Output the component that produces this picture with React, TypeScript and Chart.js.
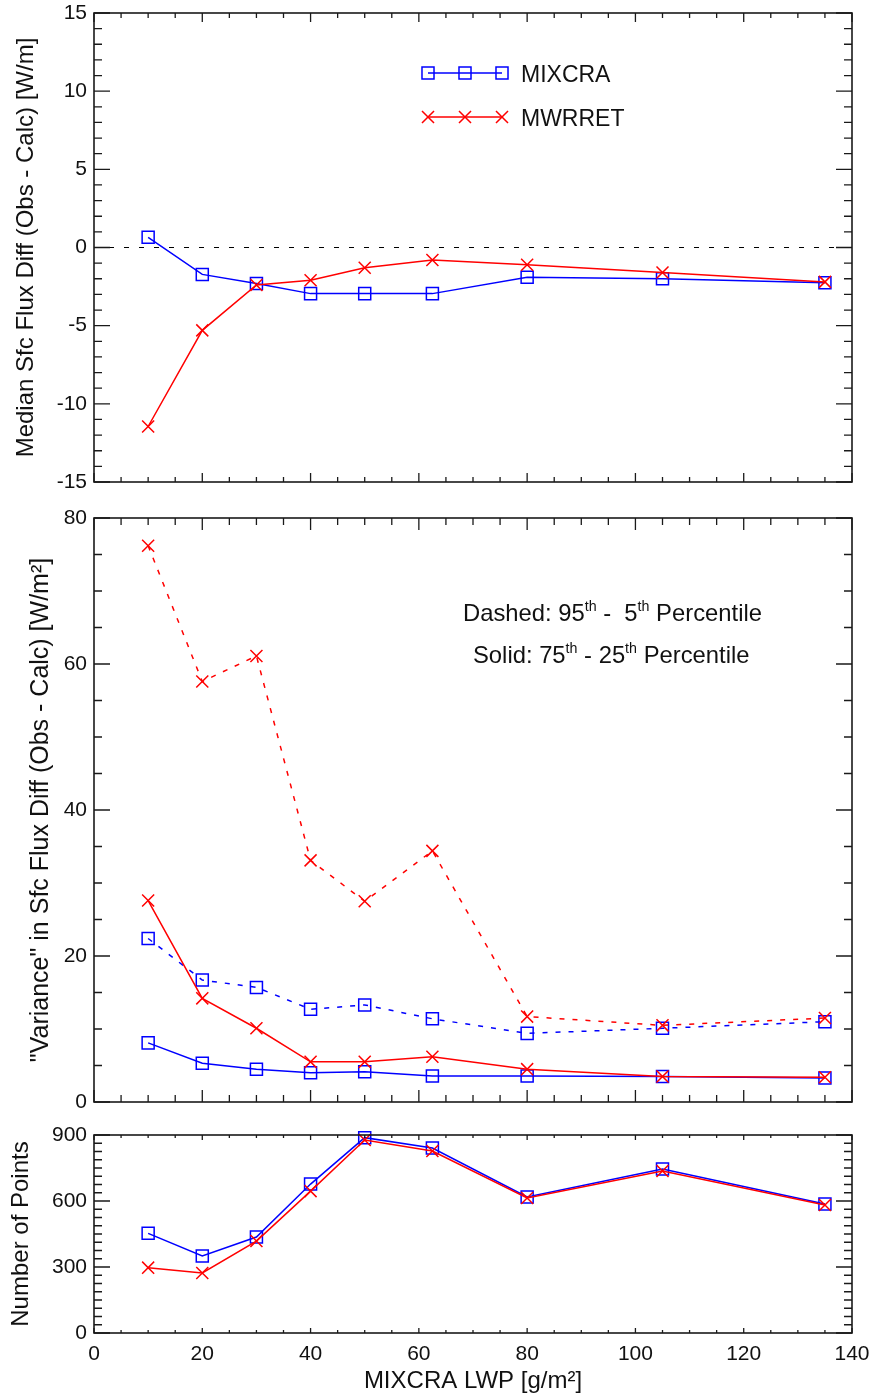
import React, { useEffect, useRef } from 'react';
import { Chart, registerables } from 'chart.js';

Chart.register(...registerables);

const FONT = '"Liberation Sans", Arial, Helvetica, sans-serif';
const BLUE = '#0000ff';
const RED = '#ff0000';
const AXIS = '#1a1a1a';
const TEXT = '#111111';

// ---- data ----
const LWP = [10, 20, 30, 40, 50, 62.5, 80, 105, 135];

const MEDIAN_MIXCRA = [0.65, -1.72, -2.3, -2.95, -2.95, -2.95, -1.9, -2.0, -2.25];
const MEDIAN_MWRRET = [-11.45, -5.3, -2.4, -2.1, -1.3, -0.8, -1.1, -1.6, -2.2];

const P95_5_MIXCRA = [22.4, 16.7, 15.7, 12.7, 13.3, 11.4, 9.4, 10.1, 11.0];
const P95_5_MWRRET = [76.2, 57.6, 61.1, 33.1, 27.5, 34.4, 11.7, 10.5, 11.5];
const P75_25_MIXCRA = [8.1, 5.3, 4.5, 4.0, 4.15, 3.55, 3.55, 3.5, 3.3];
const P75_25_MWRRET = [27.6, 14.2, 10.1, 5.5, 5.5, 6.2, 4.5, 3.5, 3.4];

const NPTS_MIXCRA = [453, 350, 436, 677, 888, 841, 618, 745, 586];
const NPTS_MWRRET = [297, 273, 418, 645, 877, 827, 614, 736, 582];

const X_TICKS = [0, 20, 40, 60, 80, 100, 120, 140];
const MEDIAN_TICKS = [-15, -10, -5, 0, 5, 10, 15];
const SPREAD_TICKS = [0, 20, 40, 60, 80];
const COUNT_TICKS = [0, 300, 600, 900];
const ZERO_LINE_X = [0, 140];

const LEGEND_LABELS = ['MIXCRA', 'MWRRET'];

const NOTE_DASHED = [
  { t: 'Dashed: 95', sup: false }, { t: 'th', sup: true }, { t: ' -  5', sup: false }, { t: 'th', sup: true }, { t: ' Percentile', sup: false },
];
const NOTE_SOLID = [
  { t: 'Solid: 75', sup: false }, { t: 'th', sup: true }, { t: ' - 25', sup: false }, { t: 'th', sup: true }, { t: ' Percentile', sup: false },
];

const PAGE_WIDTH = 869;
const PAGE_HEIGHT = 1394;

// ---- helpers ----
function pts(ys: number[]) {
  return LWP.map((x, i) => ({ x, y: ys[i] }));
}

function series(label: string, ys: number[], color: string, style: string, dash: number[] = []) {
  return {
    label,
    data: pts(ys),
    borderColor: color,
    backgroundColor: 'rgba(0,0,0,0)',
    borderWidth: 1.5,
    borderDash: dash,
    pointStyle: style,
    pointRadius: 8.5,
    pointHoverRadius: 8.5,
    pointBorderWidth: 1.5,
    pointBorderColor: color,
    pointBackgroundColor: 'rgba(0,0,0,0)',
    tension: 0,
    fill: false,
    clip: false,
  };
}

function zeroPadding(s: any) {
  s.paddingLeft = 0;
  s.paddingRight = 0;
  s.paddingTop = 0;
  s.paddingBottom = 0;
}

function xAxis(show: boolean) {
  return {
    type: 'linear',
    min: 0,
    max: 140,
    display: show,
    afterBuildTicks: (s: any) => {
      s.ticks = X_TICKS.map((v) => ({ value: v }));
    },
    afterFit: (s: any) => {
      s.height = show ? 61 : 0;
      zeroPadding(s);
    },
    grid: { display: false, drawTicks: false },
    border: { display: false },
    ticks: {
      font: { family: FONT, size: 21 },
      color: TEXT,
      padding: 9,
      autoSkip: false,
      maxRotation: 0,
      callback: (v: any) => String(v),
    },
    title: {
      display: show,
      text: 'MIXCRA LWP [g/m\u00B2]',
      font: { family: FONT, size: 24 },
      color: TEXT,
      padding: { top: 0, bottom: -2 },
    },
  };
}

function yAxis(min: number, max: number, ticks: number[], title: string, titleSize: number, titlePad: number) {
  return {
    type: 'linear',
    position: 'left',
    min,
    max,
    afterBuildTicks: (s: any) => {
      s.ticks = ticks.map((v) => ({ value: v }));
    },
    afterFit: (s: any) => {
      s.width = 94;
      zeroPadding(s);
    },
    grid: { display: false, drawTicks: false },
    border: { display: false },
    ticks: {
      font: { family: FONT, size: 21 },
      color: TEXT,
      padding: 7,
      autoSkip: false,
      callback: (v: any) => String(v),
    },
    title: {
      display: true,
      text: title,
      font: { family: FONT, size: titleSize },
      color: TEXT,
      padding: { top: titlePad, bottom: 0 },
    },
  };
}

function makeDecor(d: any) {
  return {
    id: 'decor',
    afterDatasetsDraw(chart: any) {
      const ctx = chart.ctx;
      const a = chart.chartArea;
      const xs = chart.scales.x;
      const ys = chart.scales.y;
      ctx.save();
      ctx.strokeStyle = AXIS;
      ctx.lineWidth = 1.3;
      ctx.beginPath();
      for (let i = 0; i <= 28; i++) {
        const v = i * 5;
        const px = xs.getPixelForValue(v);
        const len = i % 4 === 0 ? d.xMajorLen : d.xMinorLen;
        ctx.moveTo(px, a.bottom);
        ctx.lineTo(px, a.bottom - len);
        ctx.moveTo(px, a.top);
        ctx.lineTo(px, a.top + len);
      }
      const n = Math.round((d.yMax - d.yMin) / d.yMinorStep);
      for (let i = 0; i <= n; i++) {
        const v = d.yMin + i * d.yMinorStep;
        const py = ys.getPixelForValue(v);
        const len = i % d.yMajorEvery === 0 ? 16 : 8;
        ctx.moveTo(a.left, py);
        ctx.lineTo(a.left + len, py);
        ctx.moveTo(a.right, py);
        ctx.lineTo(a.right - len, py);
      }
      ctx.stroke();
      ctx.lineWidth = 1.6;
      ctx.strokeRect(a.left, a.top, a.right - a.left, a.bottom - a.top);
      ctx.restore();
      if (d.extra) {
        ctx.save();
        d.extra(ctx, chart);
        ctx.restore();
      }
    },
  };
}

function drawRich(ctx: CanvasRenderingContext2D, parts: any[], x: number, y: number, size: number) {
  let cx = x;
  ctx.fillStyle = TEXT;
  ctx.textBaseline = 'alphabetic';
  ctx.textAlign = 'left';
  for (const p of parts) {
    const fs = p.sup ? size * 0.6 : size;
    ctx.font = fs + 'px ' + FONT;
    ctx.fillText(p.t, cx, p.sup ? y - size * 0.4 : y);
    cx += ctx.measureText(p.t).width;
  }
}

function drawMarker(ctx: CanvasRenderingContext2D, style: string, x: number, y: number, r: number) {
  const s = r * Math.SQRT1_2;
  ctx.beginPath();
  if (style === 'rect') {
    ctx.rect(x - s, y - s, 2 * s, 2 * s);
  } else {
    ctx.moveTo(x - s, y - s);
    ctx.lineTo(x + s, y + s);
    ctx.moveTo(x + s, y - s);
    ctx.lineTo(x - s, y + s);
  }
  ctx.stroke();
}

function drawLegend(ctx: CanvasRenderingContext2D) {
  const rows = [
    { label: LEGEND_LABELS[0], color: BLUE, style: 'rect', y: 73 },
    { label: LEGEND_LABELS[1], color: RED, style: 'cross', y: 117 },
  ];
  const lx = [428, 465, 502];
  for (const r of rows) {
    ctx.strokeStyle = r.color;
    ctx.lineWidth = 1.5;
    ctx.beginPath();
    ctx.moveTo(lx[0], r.y);
    ctx.lineTo(lx[2], r.y);
    ctx.stroke();
    for (const x of lx) drawMarker(ctx, r.style, x, r.y, 8.5);
    ctx.fillStyle = TEXT;
    ctx.font = '23px ' + FONT;
    ctx.textBaseline = 'alphabetic';
    ctx.textAlign = 'left';
    ctx.fillText(r.label, 521, r.y + 8.5);
  }
}

const PANELS = [
  { top: 0, height: 500, padTop: 13, padBottom: 18 },
  { top: 500, height: 620, padTop: 18, padBottom: 18 },
  { top: 1120, height: 274, padTop: 15, padBottom: 0 },
];

function common(p: any) {
  return {
    responsive: false,
    animation: false,
    maintainAspectRatio: false,
    layout: { padding: { left: 0, right: 17, top: p.padTop, bottom: p.padBottom } },
    plugins: { legend: { display: false }, tooltip: { enabled: false } },
    events: [],
  };
}

export default function App() {
  const r1 = useRef<HTMLCanvasElement>(null);
  const r2 = useRef<HTMLCanvasElement>(null);
  const r3 = useRef<HTMLCanvasElement>(null);

  useEffect(() => {
    const c1 = new Chart(r1.current as any, {
      type: 'line',
      data: {
        datasets: [
          series('MWRRET', MEDIAN_MWRRET, RED, 'crossRot'),
          series('MIXCRA', MEDIAN_MIXCRA, BLUE, 'rect'),
          {
            label: 'zero',
            data: ZERO_LINE_X.map((x) => ({ x, y: 0 })),
            borderColor: '#000',
            borderWidth: 1.2,
            borderDash: [5, 10],
            pointRadius: 0,
            fill: false,
          },
        ],
      },
      options: {
        ...common(PANELS[0]),
        scales: {
          x: xAxis(false),
          y: yAxis(-15, 15, MEDIAN_TICKS, 'Median Sfc Flux Diff (Obs - Calc) [W/m]', 24, 12),
        },
      },
      plugins: [
        makeDecor({
          yMin: -15, yMax: 15, yMinorStep: 1, yMajorEvery: 5, xMajorLen: 9, xMinorLen: 5,
          extra: (ctx: any) => drawLegend(ctx),
        }),
      ],
    } as any);

    const c2 = new Chart(r2.current as any, {
      type: 'line',
      data: {
        datasets: [
          series('MWRRET 95-5', P95_5_MWRRET, RED, 'crossRot', [5, 8]),
          series('MWRRET 75-25', P75_25_MWRRET, RED, 'crossRot'),
          series('MIXCRA 95-5', P95_5_MIXCRA, BLUE, 'rect', [5, 8]),
          series('MIXCRA 75-25', P75_25_MIXCRA, BLUE, 'rect'),
        ],
      },
      options: {
        ...common(PANELS[1]),
        scales: {
          x: xAxis(false),
          y: yAxis(0, 80, SPREAD_TICKS, '"Variance" in Sfc Flux Diff (Obs - Calc) [W/m\u00B2]', 25, 26),
        },
      },
      plugins: [
        makeDecor({
          yMin: 0, yMax: 80, yMinorStep: 5, yMajorEvery: 4, xMajorLen: 12, xMinorLen: 7,
          extra: (ctx: any) => {
            drawRich(ctx, NOTE_DASHED, 463, 121, 23.8);
            drawRich(ctx, NOTE_SOLID, 473, 163, 23.8);
          },
        }),
      ],
    } as any);

    const c3 = new Chart(r3.current as any, {
      type: 'line',
      data: {
        datasets: [
          series('MWRRET', NPTS_MWRRET, RED, 'crossRot'),
          series('MIXCRA', NPTS_MIXCRA, BLUE, 'rect'),
        ],
      },
      options: {
        ...common(PANELS[2]),
        scales: {
          x: xAxis(true),
          y: yAxis(0, 900, COUNT_TICKS, 'Number of Points', 24, 7),
        },
      },
      plugins: [
        makeDecor({ yMin: 0, yMax: 900, yMinorStep: 37.5, yMajorEvery: 8, xMajorLen: 5, xMinorLen: 3 }),
      ],
    } as any);

    return () => {
      c1.destroy();
      c2.destroy();
      c3.destroy();
    };
  }, []);

  return (
    <div style={{ position: 'absolute', left: 0, top: 0, width: PAGE_WIDTH, height: PAGE_HEIGHT, background: '#fff' }}>
      <canvas ref={r1} width={PAGE_WIDTH} height={PANELS[0].height}
        style={{ position: 'absolute', left: 0, top: PANELS[0].top, width: PAGE_WIDTH, height: PANELS[0].height }} />
      <canvas ref={r2} width={PAGE_WIDTH} height={PANELS[1].height}
        style={{ position: 'absolute', left: 0, top: PANELS[1].top, width: PAGE_WIDTH, height: PANELS[1].height }} />
      <canvas ref={r3} width={PAGE_WIDTH} height={PANELS[2].height}
        style={{ position: 'absolute', left: 0, top: PANELS[2].top, width: PAGE_WIDTH, height: PANELS[2].height }} />
    </div>
  );
}
